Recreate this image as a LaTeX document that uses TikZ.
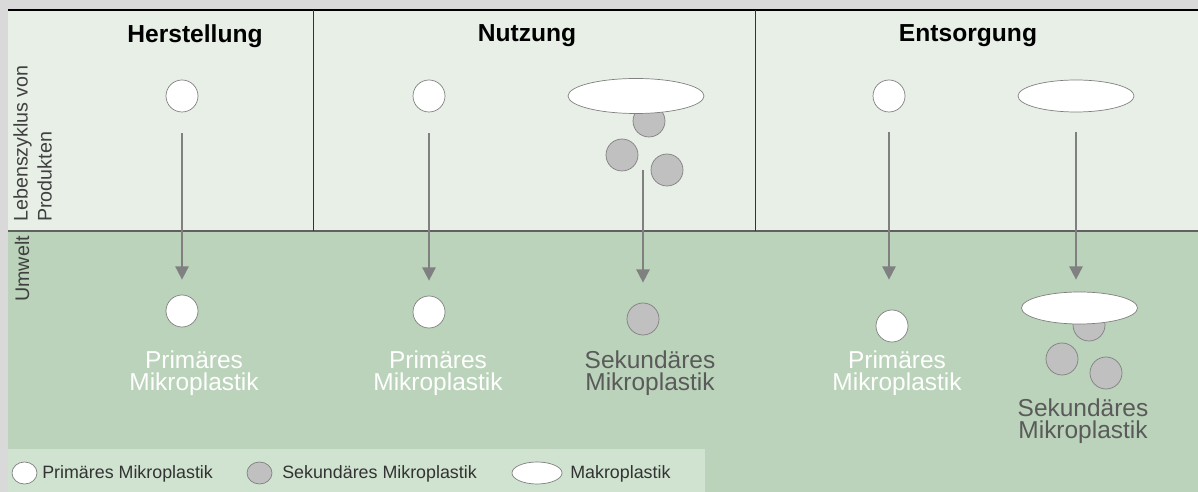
\documentclass[tikz,border=0pt]{standalone}
\usepackage{fontspec}
\setmainfont{Liberation Sans}
\usepackage{xcolor}
\usepackage{tikz}
\definecolor{mpframe}{RGB}{217, 217, 217}
\definecolor{mptop}{RGB}{231, 239, 231}
\definecolor{mpenv}{RGB}{186, 211, 186}
\definecolor{mplegend}{RGB}{208, 226, 208}
\definecolor{mpline}{RGB}{96, 96, 96}
\definecolor{mpgray}{RGB}{192, 192, 192}
\definecolor{mpedge}{RGB}{128, 128, 128}
\definecolor{mptext}{RGB}{90, 90, 90}
\usetikzlibrary{arrows.meta,positioning,shapes.geometric}

\begin{document}
\begin{tikzpicture}[x=0.25mm, y=-0.25mm,
    primary/.style={circle, draw=mpedge, fill=white, line width=0.5pt, minimum size=8mm, inner sep=0pt},
    secondary/.style={primary, fill=mpgray},
    macro/.style={ellipse, draw=mpedge, fill=white, line width=0.5pt, inner sep=0pt, minimum width=34mm, minimum height=8.75mm},
    macrosmall/.style={macro, minimum width=29mm, minimum height=8mm},
    flow/.style={-{Triangle[width=3.3mm, length=3.3mm]}, line width=1.2pt, draw=mpedge},
    phase/.style={font=\fontsize{17.5}{20}\selectfont\bfseries, inner sep=0pt},
    mplabel/.style={font=\fontsize{17.4}{16}\selectfont, align=center, inner sep=0pt},
    sidetext/.style={rotate=90, font=\fontsize{14}{17}\selectfont, text=black!75, inner sep=0pt},
    legendmark/.style={ellipse, draw=mpedge, line width=0.5pt, inner sep=0pt, minimum width=6.25mm, minimum height=5.5mm},
    legendtext/.style={font=\fontsize{12.7}{15}\selectfont, text=black!80, anchor=base west, inner sep=0pt}]

    % Panels
    \useasboundingbox (0,0) rectangle (1198,492);
    \fill[mpframe] (0,0) rectangle (1198,492);
    \fill[mptop] (8,10) rectangle (1198,231);
    \fill[mpenv] (8,231) rectangle (1198,492);
    \fill[mplegend] (8,449) rectangle (705,492);
    \draw[line width=1.6pt] (8,10) -- (1198,10);
    \draw[mpline, line width=0.8pt] (8,231) -- (1198,231);
    \draw[black!80, line width=0.6pt] (313,10) -- (313,231);
    \draw[black!80, line width=0.6pt] (755,10) -- (755,231);

    % Side labels
    \node[sidetext, anchor=south west, align=left] (lifecycle) at (52,222) {Lebenszyklus von\\Produkten};
    \node[sidetext, anchor=base west] (umwelt) at (29,302) {Umwelt};

    % Phases
    \node[phase] (herst) at (195,36) {Herstellung};
    \node[phase] (nutz) at (527,36) {Nutzung};
    \node[phase] (entsorg) at (968,36) {Entsorgung};

    % Herstellung
    \node[primary] (hprod) at (182,96) {};
    \node[primary] (henv) at (182,311) {};
    \node[mplabel, text=white] (hlab) at (194,373) {Primäres\\Mikroplastik};
    \draw[flow, shorten <=5.25mm, shorten >=3.75mm] (hprod) -- (henv);

    % Nutzung
    \node[primary] (nprod) at (429,96) {};
    \node[primary] (nenv) at (429,312) {};
    \node[mplabel, text=white] (nlab) at (438,373) {Primäres\\Mikroplastik};
    \draw[flow, shorten <=5.25mm, shorten >=3.75mm] (nprod) -- (nenv);

    \node[secondary] (nfraga) at (649,121) {};
    \node[macro] (nmacro) at (636,96) {};
    \node[secondary] (nfragb) at (622,155) {};
    \node[secondary] (nfragc) at (667,170) {};
    \coordinate (nsplit) at (643,170);
    \node[secondary] (nsec) at (643,319) {};
    \node[mplabel, text=mptext] (nseclab) at (650,373) {Sekundäres\\Mikroplastik};
    \draw[flow, shorten >=5mm] (nsplit) -- (nsec);

    % Entsorgung
    \node[primary] (eprod) at (889,96) {};
    \node[primary] (eenv) at (892,326) {};
    \node[mplabel, text=white] (elab) at (897,373) {Primäres\\Mikroplastik};
    \draw[flow, shorten <=5mm, shorten >=7.5mm] (eprod) -- (eprod |- eenv.north);

    \node[macrosmall] (emacro) at (1076,96) {};
    \node[secondary] (efraga) at (1089,325) {};
    \node[macrosmall] (eenvmacro) at (1079.5,308) {};
    \node[secondary] (efragb) at (1062,359) {};
    \node[secondary] (efragc) at (1106,373) {};
    \node[mplabel, text=mptext] (eseclab) at (1083,421) {Sekundäres\\Mikroplastik};
    \draw[flow, shorten <=5mm, shorten >=3mm] (emacro) -- (emacro |- eenvmacro.north);

    % Legend
    \node[legendmark, fill=white] (lprim) at (24.5,473) {};
    \node[legendtext] (lprimtxt) at (42,479) {Primäres Mikroplastik};
    \node[legendmark, fill=mpgray] (lsec) at (259.5,473) {};
    \node[legendtext] (lsectxt) at (282,479) {Sekundäres Mikroplastik};
    \node[legendmark, fill=white, minimum width=12.5mm] (lmacro) at (537,473) {};
    \node[legendtext] (lmacrotxt) at (570,479) {Makroplastik};
\end{tikzpicture}
\end{document}
